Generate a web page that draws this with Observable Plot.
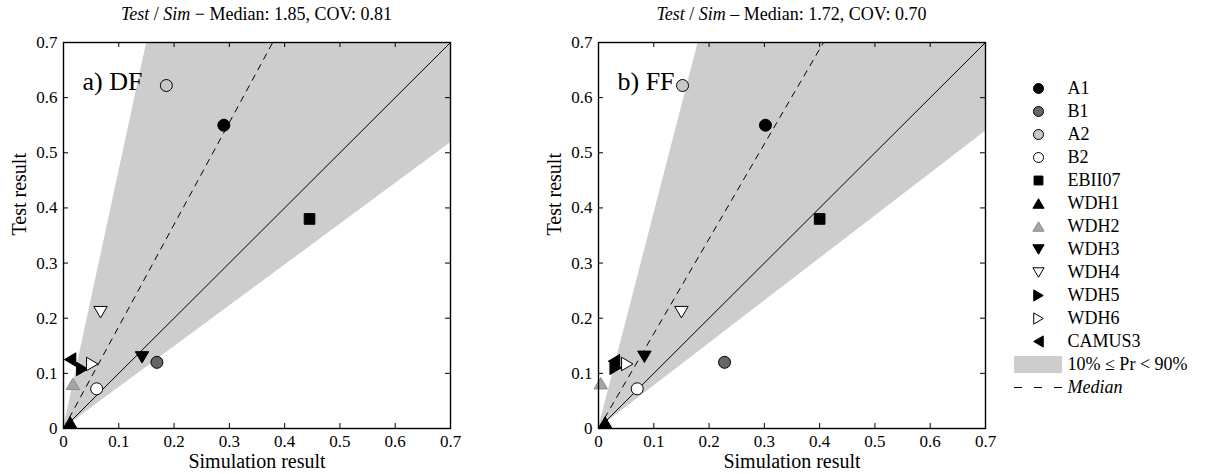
<!DOCTYPE html>
<html>
<head>
<meta charset="utf-8">
<script src="https://cdn.jsdelivr.net/npm/d3@7"></script>
<script src="https://cdn.jsdelivr.net/npm/@observablehq/plot@0.6"></script>
<style>
  html, body { margin: 0; padding: 0; background: #fff; }
  #root { position: relative; width: 1207px; height: 474px; font-family: "Liberation Serif", "Times New Roman", serif; color: #000; }
  .abs { position: absolute; }
  .title { position: absolute; top: 4px; width: 470px; text-align: center; font-size: 18px; white-space: nowrap; }
</style>
</head>
<body>
<div id="root"></div>
<script>
// ---------- data ----------
const names = ["A1","B1","A2","B2","EBII07","WDH1","WDH2","WDH3","WDH4","WDH5","WDH6","CAMUS3"];
const fills   = ["#000000","#666666","#c8c8c8","#ffffff","#000000","#000000","#a6a6a6","#000000","#ffffff","#000000","#ffffff","#000000"];
const strokes = ["#000000","#000000","#000000","#000000","#000000","#000000","#8c8c8c","#000000","#000000","#000000","#000000","#000000"];
const shapes  = ["circle","circle","circle","circle","square","up","up","down","down","right","right","left"];

// panel a) DF
const simDF  = [0.29, 0.169, 0.186, 0.060, 0.445, 0.012, 0.017, 0.142, 0.067, 0.034, 0.052, 0.012];
const testDF = [0.55, 0.120, 0.622, 0.072, 0.380, 0.011, 0.081, 0.129, 0.211, 0.108, 0.117, 0.125];
// panel b) FF
const simFF  = [0.302, 0.228, 0.152, 0.070, 0.400, 0.012, 0.004, 0.083, 0.150, 0.031, 0.052, 0.028];
const testFF = [0.550, 0.120, 0.622, 0.072, 0.380, 0.011, 0.082, 0.130, 0.211, 0.110, 0.117, 0.122];

const medians = [1.85, 1.72];
const covs    = ["0.81", "0.70"];
const lowerSlopes = [0.74, 0.77];
const upperSlopes = [4.65, 3.88];
const panelLabels = ["a) DF", "b) FF"];
const dashChars = ["\u2212", "\u2013"];

const axisDomain = [0, 0.7];
const ticks = [0, 0.1, 0.2, 0.3, 0.4, 0.5, 0.6, 0.7];
const tickLabels = ["0", "0.1", "0.2", "0.3", "0.4", "0.5", "0.6", "0.7"];
const legendLabels = [...names, "10% \u2264 Pr < 90%", "Median"];

// ---------- symbols ----------
function tri(dir) {
  return {
    draw(ctx, size) {
      const r = Math.sqrt(size / Math.PI), a = r * 1.12, b = r * 0.95;
      if (dir === "up")    { ctx.moveTo(0, -b); ctx.lineTo(a, b); ctx.lineTo(-a, b); }
      if (dir === "down")  { ctx.moveTo(0, b); ctx.lineTo(a, -b); ctx.lineTo(-a, -b); }
      if (dir === "right") { ctx.moveTo(b, 0); ctx.lineTo(-b, a); ctx.lineTo(-b, -a); }
      if (dir === "left")  { ctx.moveTo(-b, 0); ctx.lineTo(b, -a); ctx.lineTo(b, a); }
      ctx.closePath();
    }
  };
}
const symbolMap = {circle: d3.symbolCircle, square: d3.symbolSquare, up: tri("up"), down: tri("down"), right: tri("right"), left: tri("left")};
const symbolRange = shapes.map(s => symbolMap[s]);
const fillMap = new Map(names.map((n, i) => [n, fills[i]]));
const strokeMap = new Map(names.map((n, i) => [n, strokes[i]]));
const tickFmt = new Map(ticks.map((t, i) => [t, tickLabels[i]]));

const FONT = "Liberation Serif";
const root = document.getElementById("root");

function panel(k, sims, tests) {
  const pts = names.map((n, i) => ({name: n, x: sims[i], y: tests[i]}));
  const lo = lowerSlopes[k], hi = upperSlopes[k], med = medians[k];
  const ends = axisDomain;
  const plotH = 386;
  return Plot.plot({
    width: 470, height: 474,
    marginLeft: 63, marginRight: 20, marginTop: 42, marginBottom: 46,
    style: {fontFamily: FONT, fontSize: "17px", color: "#000", background: "transparent", overflow: "visible"},
    x: {domain: axisDomain, ticks: ticks},
    y: {domain: axisDomain, ticks: ticks},
    color: {type: "identity"},
    symbol: {domain: names, range: symbolRange},
    marks: [
      Plot.areaY(ends, {x: d => d, y1: d => lo * d, y2: d => hi * d, fill: "#cdcdcd", clip: true}),
      Plot.line(ends, {x: d => d, y: d => d, stroke: "#000", strokeWidth: 1, clip: true}),
      Plot.line(ends, {x: d => d, y: d => med * d, stroke: "#000", strokeWidth: 1, strokeDasharray: "6,6", clip: true}),
      Plot.dot(pts, {x: "x", y: "y", symbol: "name", fill: d => fillMap.get(d.name), stroke: d => strokeMap.get(d.name), strokeWidth: 1, r: 6}),
      Plot.tickX(ticks, {x: d => d, insetTop: plotH - 5, stroke: "#000"}),
      Plot.tickX(ticks, {x: d => d, insetBottom: plotH - 5, stroke: "#000"}),
      Plot.tickY(ticks, {y: d => d, insetRight: 387 - 5, stroke: "#000"}),
      Plot.tickY(ticks, {y: d => d, insetLeft: 387 - 5, stroke: "#000"}),
      Plot.frame({stroke: "#000", strokeWidth: 1.4}),
      Plot.axisX({ticks: ticks, tickSize: 0, tickPadding: 6, tickFormat: d => tickFmt.get(d), label: null, fontSize: 17}),
      Plot.axisY({ticks: ticks, tickSize: 0, tickPadding: 6, tickFormat: d => tickFmt.get(d), label: null, fontSize: 17}),
      Plot.text(["Simulation result"], {text: d => d, frameAnchor: "bottom", dy: 39, fontSize: 20, fill: "#000"}),
      Plot.text(["Test result"], {text: d => d, frameAnchor: "left", dx: -44, rotate: -90, fontSize: 20, fill: "#000"}),
      Plot.text([panelLabels[k]], {text: d => d, frameAnchor: "top-left", dx: 19, dy: 29, textAnchor: "start", fontSize: 26, fill: "#000"})
    ]
  });
}

const offsets = [0, 535];
[[simDF, testDF], [simFF, testFF]].forEach(([s, t], k) => {
  const svg = panel(k, s, t);
  svg.classList.add("abs");
  svg.style.left = offsets[k] + "px";
  svg.style.top = "0px";
  root.appendChild(svg);
  const title = document.createElement("div");
  title.className = "title";
  title.style.left = (offsets[k] + 21.5) + "px";
  title.innerHTML = `<i>Test</i> / <i>Sim</i> ${dashChars[k]} Median: ${medians[k].toFixed(2)}, COV: ${covs[k]}`;
  root.appendChild(title);
});

// ---------- legend ----------
const legendPts = names.map((n) => ({name: n}));
const leg = Plot.plot({
  width: 207, height: 474, margin: 0,
  style: {fontFamily: FONT, fontSize: "18px", color: "#000", background: "transparent"},
  x: {domain: [0, 207], range: [0, 207], axis: null},
  y: {type: "point", domain: legendLabels, range: [82, 392], padding: 0, axis: null},
  color: {type: "identity"},
  symbol: {domain: names, range: symbolRange},
  marks: [
    Plot.dot(legendPts, {x: () => 38, y: "name", symbol: "name", fill: d => fillMap.get(d.name), stroke: d => strokeMap.get(d.name), strokeWidth: 1, r: 5}),
    Plot.ruleY([legendLabels[12]], {y: d => d, x1: () => 14, x2: () => 62, stroke: "#cdcdcd", strokeWidth: 17}),
    Plot.ruleY([legendLabels[13]], {y: d => d, x1: () => 14, x2: () => 62, stroke: "#000", strokeWidth: 1, strokeDasharray: "8,12"}),
    Plot.text(legendLabels.slice(0, 13), {x: () => 67, y: d => d, text: d => d, textAnchor: "start", fill: "#000"}),
    Plot.text([legendLabels[13]], {x: () => 67, y: d => d, text: d => d, textAnchor: "start", fontStyle: "italic", fill: "#000"})
  ]
});
leg.classList.add("abs");
leg.style.left = "1000px";
leg.style.top = "0px";
root.appendChild(leg);
</script>
</body>
</html>
